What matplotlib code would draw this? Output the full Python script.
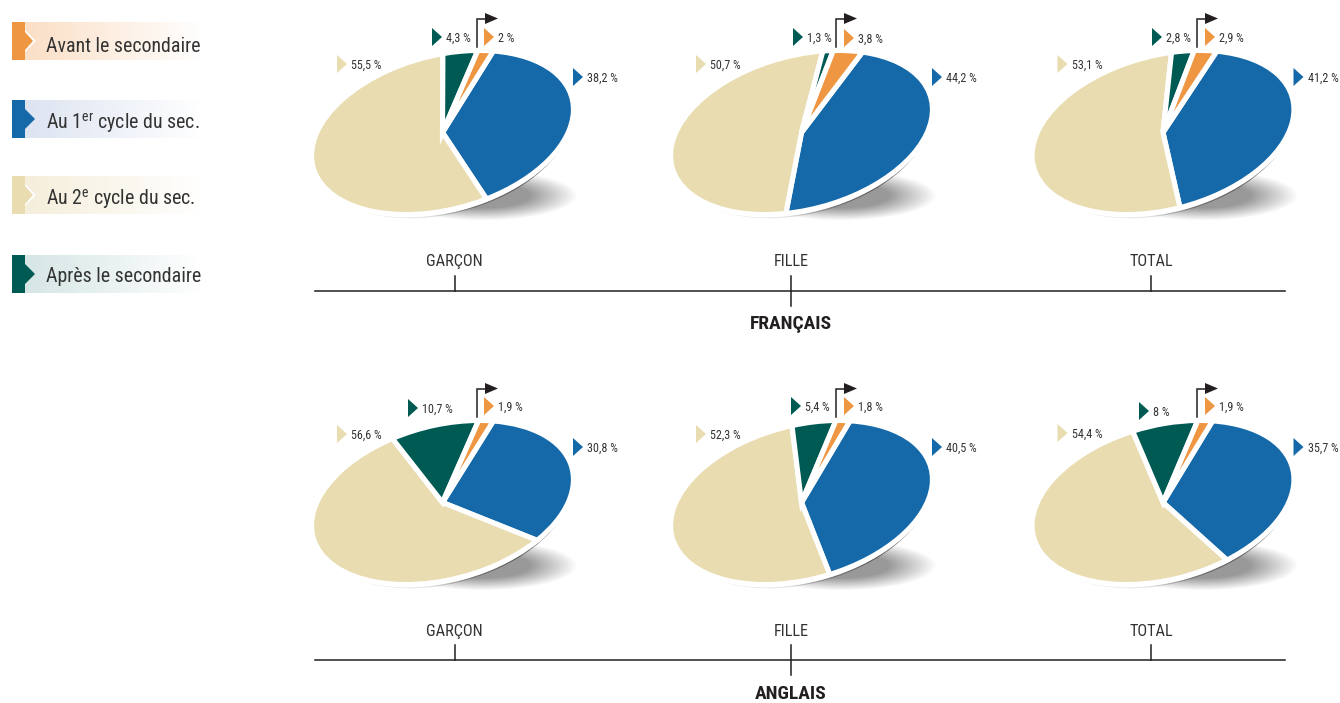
import matplotlib
matplotlib.use('Agg')
from matplotlib import pyplot as plt
from matplotlib.patches import Ellipse, Polygon
from matplotlib.transforms import Affine2D
import numpy as np

plt.rcParams['font.family'] = 'Roboto Condensed'
plt.rcParams['mathtext.fontset'] = 'custom'
plt.rcParams['mathtext.rm'] = 'Roboto Condensed'

# shares per group, in %
avant = [2, 3.8, 2.9, 1.9, 1.8, 1.9]
cycle1 = [38.2, 44.2, 41.2, 30.8, 40.5, 35.7]
cycle2 = [55.5, 50.7, 53.1, 56.6, 52.3, 54.4]
apres = [4.3, 1.3, 2.8, 10.7, 5.4, 8]

groups = ['GARÇON', 'FILLE', 'TOTAL']
subjects = ['FRANÇAIS', 'ANGLAIS']
legend_labels = ['Avant le secondaire', 'Au 1$^{\\mathrm{er}}$ cycle du sec.',
                 'Au 2$^{\\mathrm{e}}$ cycle du sec.', 'Après le secondaire']

ORANGE = '#EE9641'
BLUE = '#1569A8'
BEIGE = '#E9DCB0'
GREEN = '#005A54'
TEXT = '#333333'
legend_colors = [ORANGE, BLUE, BEIGE, GREEN]
legend_tints = ['#FBDFC6', '#DDE4F1', '#F5EEDB', '#D6E6E5']
legend_y = [41, 119, 195, 274]
legend_base = [51.5, 128.5, 204.5, 281.5]

pie_x = [442.5, 801.5, 1163]
pie_y = [132.5, 502.5]
start_angle = [58.4, 53.5, 57, 58.4, 59.5, 59]
# label anchors in px: triangle left edge, triangle y
green_tri = [(432, 37), (793, 37), (1152, 37), (408, 408), (791, 406), (1139, 411)]
orange_tri = [(484, 37), (844, 38), (1205, 37), (484, 406), (844, 406), (1205, 406)]
flag_x = [477, 836, 1197]


def soft_layer(ax, box, field, alpha, color, zorder):
    x0, x1, y0, y1 = box
    rgba = np.zeros(field.shape + (4,))
    rgba[..., :3] = matplotlib.colors.to_rgb(color)
    rgba[..., 3] = alpha
    ax.imshow(rgba, extent=(x0, x1, y1, y0), aspect='auto',
              interpolation='bilinear', zorder=zorder)


def ellipse_r(xx, yy, cx, cy, a, b, deg):
    t = np.radians(deg)
    dx, dy = xx - cx, cy - yy
    u = dx * np.cos(t) + dy * np.sin(t)
    v = -dx * np.sin(t) + dy * np.cos(t)
    return np.sqrt((u / a) ** 2 + (v / b) ** 2)


def draw_pie(ax, cx, cy, values, start):
    box = (int(cx) - 150, int(cx) + 160, int(cy) - 90, int(cy) + 110)
    xs = np.arange(box[0], box[1]) + 0.5
    ys = np.arange(box[2], box[3]) + 0.5
    xx, yy = np.meshgrid(xs, ys)

    # blurred cast shadow at the lower right
    r = ellipse_r(xx, yy, cx + 40, cy + 63, 95, 25, 0)
    soft_layer(ax, box, r, np.clip((1 - r) / 0.5, 0, 1) * 0.6, '#555555', 1)

    # thin edge below the disc, darker towards the right
    r = ellipse_r(xx, yy, cx + 1.5, cy + 5, 131, 76.5, 15)
    ramp = np.clip((xx - cx + 40) / 170, 0, 1)
    soft_layer(ax, box, r, np.clip((1 - r) / 0.012, 0, 1) * (0.1 + 0.8 * ramp ** 1.5), '#333333', 2)

    ax.add_patch(Ellipse((cx + 0.5, cy + 3.2), 263, 153.5, angle=-15,
                         facecolor='white', edgecolor='none', zorder=3))

    wedges, _ = ax.pie(values, colors=[BLUE, BEIGE, GREEN, ORANGE], startangle=start,
                       counterclock=False, frame=True,
                       wedgeprops={'edgecolor': 'white', 'linewidth': 3.7, 'joinstyle': 'miter'})
    tilt = Affine2D().scale(134, 77).rotate_deg(15).scale(1, -1).translate(cx, cy)
    for w in wedges:
        w.set_transform(tilt + ax.transData)
        w.set_zorder(4)


def pct(v):
    return f'{v:g}'.replace('.', ',') + ' %'


def pointer(ax, x, y, value, color):
    ax.add_patch(Polygon([(x, y - 9), (x + 10, y), (x, y + 9)], facecolor=color,
                         edgecolor='none', zorder=5))
    ax.text(x + 14, y + 1, pct(value), fontsize=8.7, color=TEXT,
            va='center', ha='left', zorder=5)


fig = plt.figure(figsize=(13.4, 7.03), dpi=100)
ax = fig.add_axes([0, 0, 1, 1])

k = 0
for row, cy in enumerate(pie_y):
    dy = 370 * row
    for col, cx in enumerate(pie_x):
        draw_pie(ax, cx, cy, [cycle1[k], cycle2[k], apres[k], avant[k]], start_angle[k])
        pointer(ax, cx - 105.5, 64 + dy - (1 if row and col == 2 else 0), cycle2[k], BEIGE)
        pointer(ax, cx + 130.5, 77 + dy, cycle1[k], BLUE)
        pointer(ax, green_tri[k][0], green_tri[k][1], apres[k], GREEN)
        pointer(ax, orange_tri[k][0], orange_tri[k][1], avant[k], ORANGE)
        # flag tying the small orange slice to its label
        fx = flag_x[col]
        ax.plot([fx, fx, fx + 9], [47 + dy, 18.5 + dy, 18.5 + dy], color='#231F20', lw=1.1,
                solid_joinstyle='miter', zorder=5)
        ax.add_patch(Polygon([(fx + 8, 13 + dy), (fx + 21, 18.5 + dy), (fx + 8, 24 + dy)],
                             facecolor='#231F20', edgecolor='none', zorder=5))
        k += 1

# group axes under each row of pies
tick_x = [455, 791, 1151]
for row, subject in enumerate(subjects):
    dy = 369 * row
    ax.plot([315, 1285], [291 + dy, 291 + dy], color='#231F20', lw=1.1, zorder=5)
    for i, name in enumerate(groups):
        bottom = 306 if i == 1 else 291
        ax.plot([tick_x[i], tick_x[i]], [276 + dy, bottom + dy], color='#231F20', lw=1.1, zorder=5)
        ax.text(tick_x[i] - 1 if i == 0 else tick_x[i], 266 + dy + row, name, fontsize=11.7,
                color=TEXT, ha='center', va='baseline')
    ax.text(791, 329 + dy + row, subject, fontsize=14, fontweight='bold', color='#231F20',
            ha='center', va='baseline')

# legend
for y, base, label, color, tint in zip(legend_y, legend_base, legend_labels, legend_colors, legend_tints):
    top, bot = y - 19, y + 19
    c0 = np.array(matplotlib.colors.to_rgb(tint))
    t = np.linspace(0, 1, 178)[None, :, None]
    grad = c0[None, None, :] * (1 - t) + np.ones(3)[None, None, :] * t
    ax.imshow(grad, extent=(25, 203, bot, top), aspect='auto', zorder=1)
    ax.add_patch(Polygon([(12, top), (25, top), (25, bot), (12, bot)], facecolor=color,
                         edgecolor='none', zorder=3))
    if color in (ORANGE, BEIGE):
        ax.add_patch(Polygon([(25, y - 11), (36, y), (25, y + 11)], facecolor='white',
                             edgecolor='none', zorder=2))
        ax.add_patch(Polygon([(25, y - 9), (33, y), (25, y + 9)], facecolor=color,
                             edgecolor='none', zorder=3))
    else:
        ax.add_patch(Polygon([(25, y - 10), (35, y), (25, y + 10)], facecolor=color,
                             edgecolor='none', zorder=3))
    ax.text(46.5, base, label, fontsize=14.3, color=TEXT, ha='left', va='baseline', zorder=4)

ax.set_xlim(0, 1340)
ax.set_ylim(703, 0)
ax.set_aspect('auto')
ax.axis('off')
fig.savefig('out.png', dpi=100)
